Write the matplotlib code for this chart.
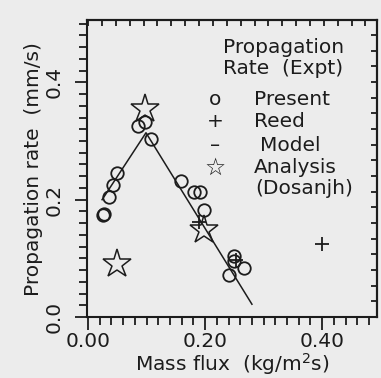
import numpy as np
import matplotlib
matplotlib.use("Agg")
import matplotlib.pyplot as plt
from matplotlib.ticker import MultipleLocator

# Data
present_x = [0.025, 0.027, 0.036, 0.042, 0.049, 0.086, 0.0975, 0.108, 0.158,
             0.181, 0.191, 0.198, 0.250, 0.250, 0.266, 0.241]
present_y = [0.174, 0.176, 0.205, 0.225, 0.245, 0.325, 0.332, 0.304, 0.232,
             0.213, 0.213, 0.183, 0.104, 0.095, 0.083, 0.071]
reed_x = [0.190, 0.252, 0.400]
reed_y = [0.162, 0.097, 0.124]
analysis_x = [0.049, 0.097, 0.198]
analysis_y = [0.090, 0.355, 0.148]
model_x = [0.024, 0.099, 0.280]
model_y = [0.200, 0.314, 0.022]

x_ticks = [0.0, 0.2, 0.4]
x_ticklabels = ["0.00", "0.20", "0.40"]
y_ticks = [0.0, 0.2, 0.4]
y_ticklabels = ["0.0", "0.2", "0.4"]

ink = "#1c1c1c"
paper = "#ececec"

fig = plt.figure(figsize=(3.81, 3.78), dpi=100, facecolor=paper)
ax = fig.add_axes([0.228, 0.161, 0.762, 0.786])
ax.set_facecolor(paper)

ax.plot(model_x, model_y, color=ink, lw=1.1)
ax.plot(present_x, present_y, "o", ms=9, mfc="none", mec=ink, mew=1.3)
ax.plot(reed_x, reed_y, "+", ms=10, color=ink, mew=1.3)
ax.plot(analysis_x, analysis_y, "*", ms=21, mfc="none", mec=ink, mew=1.1)

ax.set_xlim(-0.002, 0.494)
ax.set_ylim(0.0, 0.506)

for s in ax.spines.values():
    s.set_linewidth(1.5)
    s.set_color(ink)

ax.set_xticks(x_ticks)
ax.set_xticklabels(x_ticklabels)
ax.set_yticks(y_ticks)
ax.set_yticklabels(y_ticklabels, rotation=90, va="center")
ax.xaxis.set_minor_locator(MultipleLocator(0.02))
ax.yaxis.set_minor_locator(MultipleLocator(0.02))
ax.tick_params(which="major", direction="out", length=9, width=1.3,
               labelsize=14.5, colors=ink)
ax.tick_params(which="minor", direction="out", length=6, width=1.3, colors=ink)
ax.tick_params(axis="x", which="major", pad=2)
ax.tick_params(axis="y", which="major", pad=8)

# top and right frames carry their own inward ticks
top = ax.secondary_xaxis("top")
top.xaxis.set_major_locator(MultipleLocator(0.0237))
top.tick_params(direction="in", length=4.5, width=1.3, labeltop=False, colors=ink)
top.spines["top"].set_linewidth(1.5)
right = ax.secondary_yaxis("right")
right.yaxis.set_major_locator(MultipleLocator(0.0267))
right.tick_params(direction="in", length=4.5, width=1.3, labelright=False, colors=ink)
right.spines["right"].set_linewidth(1.5)

ax.set_xlabel("Mass flux  (kg/m$^2$s)", fontsize=14.5, color=ink, labelpad=0)
ax.set_ylabel("Propagation rate  (mm/s)", fontsize=14.5, color=ink, labelpad=1)

# legend written as text, as in the original
fs = 14.5
ax.text(0.469, 0.909, "Propagation", transform=ax.transAxes, fontsize=fs, va="center", color=ink)
ax.text(0.469, 0.838, "Rate  (Expt)", transform=ax.transAxes, fontsize=fs, va="center", color=ink)
ax.text(0.441, 0.734, "o", transform=ax.transAxes, fontsize=fs, va="center", ha="center", color=ink)
ax.text(0.576, 0.734, "Present", transform=ax.transAxes, fontsize=fs, va="center", color=ink)
ax.text(0.441, 0.657, "+", transform=ax.transAxes, fontsize=fs, va="center", ha="center", color=ink)
ax.text(0.576, 0.657, "Reed", transform=ax.transAxes, fontsize=fs, va="center", color=ink)
ax.text(0.441, 0.579, "\u2013", transform=ax.transAxes, fontsize=fs, va="center", ha="center", color=ink)
ax.text(0.596, 0.579, "Model", transform=ax.transAxes, fontsize=fs, va="center", color=ink)
ax.text(0.441, 0.502, "\u2606", transform=ax.transAxes, fontsize=17, va="center", ha="center", color=ink)
ax.text(0.576, 0.502, "Analysis", transform=ax.transAxes, fontsize=fs, va="center", color=ink)
ax.text(0.579, 0.434, "(Dosanjh)", transform=ax.transAxes, fontsize=fs, va="center", color=ink)

fig.savefig("out.png", dpi=100, facecolor=paper)
